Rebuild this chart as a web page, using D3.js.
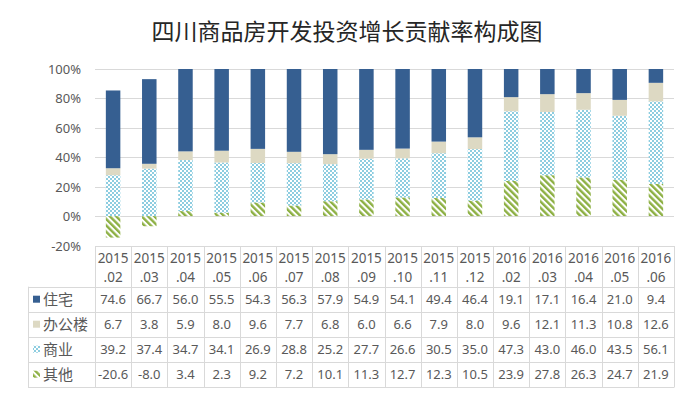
<!DOCTYPE html>
<html>
<head>
<meta charset="utf-8">
<script src="https://cdn.jsdelivr.net/npm/d3@7"></script>
<style>
  html, body { margin: 0; padding: 0; background: #fff; }
  svg { display: block; }
  text { font-family: "Noto Sans", "Noto Sans CJK SC", sans-serif; fill: #595959; }
</style>
</head>
<body>
<svg id="chart" width="693" height="396"></svg>
<script>
const title = '四川商品房开发投资增长贡献率构成图'

const months = ['2015.02', '2015.03', '2015.04', '2015.05', '2015.06', '2015.07', '2015.08', '2015.09',
  '2015.10', '2015.11', '2015.12', '2016.02', '2016.03', '2016.04', '2016.05', '2016.06']

const housing = [74.6, 66.7, 56.0, 55.5, 54.3, 56.3, 57.9, 54.9, 54.1, 49.4, 46.4, 19.1, 17.1, 16.4, 21.0, 9.4]
const office = [6.7, 3.8, 5.9, 8.0, 9.6, 7.7, 6.8, 6.0, 6.6, 7.9, 8.0, 9.6, 12.1, 11.3, 10.8, 12.6]
const commercial = [39.2, 37.4, 34.7, 34.1, 26.9, 28.8, 25.2, 27.7, 26.6, 30.5, 35.0, 47.3, 43.0, 46.0, 43.5, 56.1]
const other = [-20.6, -8.0, 3.4, 2.3, 9.2, 7.2, 10.1, 11.3, 12.7, 12.3, 10.5, 23.9, 27.8, 26.3, 24.7, 21.9]

const yTicks = [-0.2, 0, 0.2, 0.4, 0.6, 0.8, 1.0]

// series, in table order (top to bottom)
const series = [
  { name: '住宅', values: housing, fill: '#365f91' },
  { name: '办公楼', values: office, fill: '#ddd9c3' },
  { name: '商业', values: commercial, fill: 'url(#checker)' },
  { name: '其他', values: other, fill: 'url(#stripes)' }
]
// stacking order from the zero line upward
const stackKeys = ['其他', '商业', '办公楼', '住宅']

// plain hyphen for negatives, like the original
const locale = d3.formatLocale({ decimal: '.', thousands: ',', grouping: [3], currency: ['', ''], minus: '-' })

const svg = d3.select('#chart')
const defs = svg.append('defs')

const checker = defs.append('pattern')
  .attr('id', 'checker')
  .attr('patternUnits', 'userSpaceOnUse')
  .attr('width', 4).attr('height', 4)
checker.append('rect').attr('width', 4).attr('height', 4).attr('fill', '#fff')
checker.append('rect').attr('width', 2).attr('height', 2).attr('fill', '#8dcde0')
checker.append('rect').attr('x', 2).attr('y', 2).attr('width', 2).attr('height', 2).attr('fill', '#8dcde0')

const stripes = defs.append('pattern')
  .attr('id', 'stripes')
  .attr('patternUnits', 'userSpaceOnUse')
  .attr('width', 4.5).attr('height', 4.5)
  .attr('patternTransform', 'rotate(-45)')
stripes.append('rect').attr('width', 4.5).attr('height', 4.5).attr('fill', '#fff')
stripes.append('rect').attr('width', 2.4).attr('height', 4.5).attr('fill', '#8db043')

// 100% stacked: each value is a share of the column's absolute total
const rows = months.map((m, i) => {
  const row = { month: m }
  const total = d3.sum(series, s => Math.abs(s.values[i]))
  series.forEach(s => { row[s.name] = s.values[i] / total })
  return row
})

const stacked = d3.stack()
  .keys(stackKeys)
  .offset(d3.stackOffsetDiverging)(rows)

const left = 95
const right = 674
const x = d3.scaleBand().domain(months).range([left, right]).paddingInner(0).paddingOuter(0)
const y = d3.scaleLinear().domain([-0.2, 1]).range([245.5, 69])

svg.append('text')
  .attr('x', 347)
  .attr('y', 40)
  .attr('text-anchor', 'middle')
  .style('font-family', '"Noto Sans CJK SC", sans-serif')
  .style('font-size', '23px')
  .style('fill', '#262626')
  .text(title)

// grid
svg.append('g')
  .selectAll('line')
  .data(yTicks)
  .enter()
  .append('line')
  .attr('x1', left)
  .attr('x2', right)
  .attr('y1', d => Math.round(y(d)) + 0.5)
  .attr('y2', d => Math.round(y(d)) + 0.5)
  .attr('stroke', '#d9d9d9')
  .attr('stroke-width', 1)

svg.append('g')
  .selectAll('text')
  .data(yTicks)
  .enter()
  .append('text')
  .attr('x', 81)
  .attr('y', d => y(d) + 5)
  .attr('text-anchor', 'end')
  .style('font-size', '13px')
  .text(d => locale.format('.0%')(d))

const fillOf = {}
series.forEach(s => { fillOf[s.name] = s.fill })

const barW = 14.5
svg.append('g')
  .selectAll('g')
  .data(stacked)
  .enter()
  .append('g')
  .attr('fill', d => fillOf[d.key])
  .selectAll('rect')
  .data(d => d)
  .enter()
  .append('rect')
  .attr('x', d => x(d.data.month) + x.bandwidth() / 2 - barW / 2)
  .attr('width', barW)
  .attr('y', d => y(Math.max(d[0], d[1])))
  .attr('height', d => Math.abs(y(d[0]) - y(d[1])))

// data table
const tableTop = 246
const headH = 40.7
const rowH = 25
const legendLeft = 28
const grid = svg.append('g').attr('stroke', '#d9d9d9').attr('stroke-width', 1).attr('fill', 'none')

// horizontal lines
grid.append('line')
  .attr('x1', left).attr('x2', right)
  .attr('y1', tableTop + 0.5).attr('y2', tableTop + 0.5)
d3.range(series.length + 1).forEach(k => {
  const yy = Math.round(tableTop + headH + k * rowH) + 0.5
  grid.append('line').attr('x1', legendLeft).attr('x2', right).attr('y1', yy).attr('y2', yy)
})
const tableBottom = Math.round(tableTop + headH + series.length * rowH) + 0.5

// vertical lines
grid.append('line')
  .attr('x1', legendLeft + 0.5).attr('x2', legendLeft + 0.5)
  .attr('y1', tableTop + headH).attr('y2', tableBottom)
months.concat(['end']).forEach((m, k) => {
  const xx = Math.round(left + k * x.bandwidth()) + 0.5
  grid.append('line').attr('x1', xx).attr('x2', xx).attr('y1', tableTop).attr('y2', tableBottom)
})

// header
const head = svg.append('g')
  .selectAll('text')
  .data(months)
  .enter()
  .append('text')
  .attr('text-anchor', 'middle')
  .style('font-size', '13.5px')
head.append('tspan')
  .attr('x', d => x(d) + x.bandwidth() / 2)
  .attr('y', tableTop + 17)
  .text(d => d.split('.')[0])
head.append('tspan')
  .attr('x', d => x(d) + x.bandwidth() / 2)
  .attr('y', tableTop + 36)
  .text(d => '.' + d.split('.')[1])

// rows
series.forEach((s, k) => {
  const cy = tableTop + headH + k * rowH + rowH / 2
  svg.append('rect')
    .attr('x', 33)
    .attr('y', cy - 3.5)
    .attr('width', 7)
    .attr('height', 7)
    .attr('fill', s.fill)
  svg.append('text')
    .attr('x', 43)
    .attr('y', cy + 5.5)
    .style('font-family', '"Noto Sans CJK SC", sans-serif')
    .style('font-size', '15px')
    .text(s.name)
  svg.append('g')
    .selectAll('text')
    .data(s.values)
    .enter()
    .append('text')
    .attr('x', (d, i) => x(months[i]) + x.bandwidth() / 2)
    .attr('y', cy + 5)
    .attr('text-anchor', 'middle')
    .style('font-size', '13px')
    .text(d => locale.format('.1f')(d))
})
</script>
</body>
</html>
